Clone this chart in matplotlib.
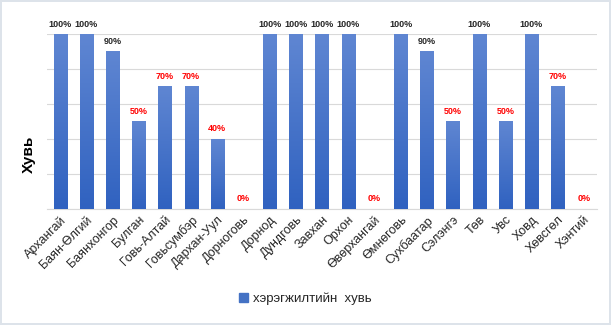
import numpy as np
import matplotlib
matplotlib.use("Agg")
import matplotlib.pyplot as plt
from matplotlib.patches import Patch

plt.rcParams['font.family'] = ['Liberation Sans', 'DejaVu Sans']

# аймгууд
aimags = ['Архангай', 'Баян-Өлгий', 'Баянхонгор', 'Булган', 'Говь-Алтай',
          'Говьсумбэр', 'Дархан-Уул', 'Дорноговь', 'Дорнод', 'Дундговь',
          'Завхан', 'Орхон', 'Өвөрхангай', 'Өмнөговь', 'Сухбаатар',
          'Сэлэнгэ', 'Төв', 'Увс', 'Ховд', 'Хөвсгөл', 'Хэнтий']
# хэрэгжилтийн хувь
values = [100, 100, 90, 50, 70, 70, 40, 0, 100, 100, 100, 100, 0, 100, 90,
          50, 100, 50, 100, 70, 0]
series_name = 'хэрэгжилтийн  хувь'

fig = plt.figure(figsize=(6.11, 3.25), dpi=100)
fig.patch.set_edgecolor('#dde3ea')
fig.patch.set_linewidth(1.5)
ax = fig.add_axes([0.077, 0.357, 0.9, 0.538])

x = np.arange(len(aimags))
bars = ax.bar(x, values, width=0.5, color='none', zorder=3)

# градиент (дээрээс доош бараан)
grad = np.linspace(0, 1, 100).reshape(-1, 1)
cmap = matplotlib.colors.LinearSegmentedColormap.from_list(
    'g', ['#3062c0', '#5f86d2'])
for b in bars:
    h = b.get_height()
    if h <= 0:
        continue
    x0 = b.get_x()
    ax.imshow(grad, extent=(x0, x0 + b.get_width(), 0, h), origin='lower',
              cmap=cmap, aspect='auto', zorder=3)

for xi, v in zip(x, values):
    col = 'red' if v < 90 else '#262626'
    ax.annotate(f'{v}%', (xi, v), xytext=(0, 4), textcoords='offset points',
                ha='center', va='bottom', fontsize=6.5, fontweight='bold',
                color=col)

ax.set_xlim(-0.5, len(aimags) - 0.5)
ax.set_ylim(0, 100)
ax.set_yticks(np.arange(0, 101, 20))
ax.set_yticklabels([])
ax.tick_params(length=0)
ax.yaxis.grid(True, color='#d9d9d9', linewidth=0.8, zorder=0)
ax.set_axisbelow(True)
for s in ['top', 'right', 'left']:
    ax.spines[s].set_visible(False)
ax.spines['bottom'].set_color('#d9d9d9')

ax.set_xticks(x)
ax.set_xticklabels(aimags, rotation=45, ha='right', rotation_mode='anchor',
                   fontsize=9, color='#262626')
ax.set_ylabel('Хувь', fontsize=11, fontweight='bold')
ax.yaxis.set_label_coords(-0.02, 0.31)

fig.legend(handles=[Patch(color='#4472c4', label=series_name)],
           loc='lower center', bbox_to_anchor=(0.5, 0.025), frameon=False,
           fontsize=9.5, handlelength=0.7, handleheight=0.7,
           handletextpad=0.4, labelcolor='#262626')

fig.savefig('out.png', dpi=100)
